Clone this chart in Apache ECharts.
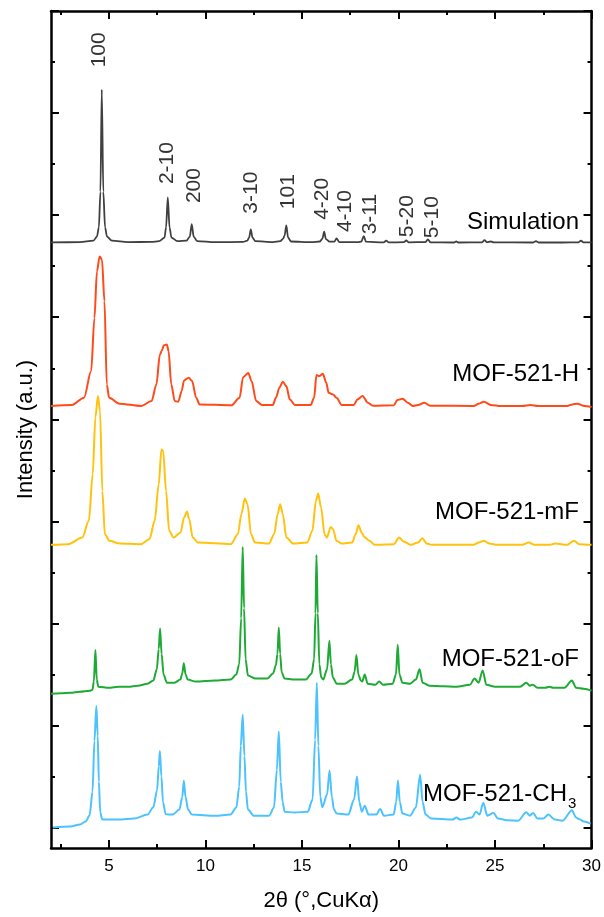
<!DOCTYPE html>
<html><head><meta charset="utf-8">
<script src="https://cdn.jsdelivr.net/npm/echarts@6/dist/echarts.min.js"></script>
<style>html,body{margin:0;padding:0;background:#fff}#c{width:604px;height:917px}</style>
</head><body><div id="c"></div>
<script>
const FONT = '"Liberation Sans", Arial, Helvetica, sans-serif';

const seriesNames = ['Simulation', 'MOF-521-H', 'MOF-521-mF', 'MOF-521-oF', 'MOF-521-CH3'];
const seriesColors = ['#404040', '#FF4A1A', '#FFC20E', '#1FAA35', '#4CC2FF'];
const baselineOffsets = [5.73, 4.13, 2.77, 1.35, 0];

// [2theta, relative intensity above own baseline]
const simulation = [[2.0,0.003],[3.5,0.005],[4.2,0.02],[4.38,0.06],[4.48,0.15],[4.56,0.5],[4.63,1.50],[4.71,0.5],[4.8,0.15],[4.9,0.06],[5.15,0.02],[6.0,0.006],[7.2,0.008],[7.6,0.015],[7.88,0.05],[7.96,0.15],[8.05,0.444],[8.14,0.15],[8.24,0.05],[8.55,0.015],[9.02,0.02],[9.19,0.06],[9.29,0.183],[9.39,0.06],[9.57,0.015],[10.5,0.005],[11.95,0.008],[12.17,0.02],[12.26,0.05],[12.35,0.13],[12.44,0.05],[12.58,0.015],[13.5,0.006],[13.88,0.015],[14.03,0.04],[14.1,0.07],[14.19,0.17],[14.28,0.05],[14.43,0.012],[15.5,0.005],[15.93,0.012],[16.06,0.04],[16.15,0.108],[16.24,0.035],[16.43,0.01],[16.68,0.01],[16.79,0.043],[16.93,0.006],[17.9,0.006],[18.08,0.012],[18.2,0.065],[18.32,0.01],[19.23,0.003],[19.37,0.02],[19.5,0.003],[20.28,0.005],[20.4,0.022],[20.53,0.004],[21.4,0.006],[21.52,0.033],[21.65,0.004],[22.88,0.002],[22.99,0.012],[23.1,0.002],[24.33,0.004],[24.45,0.026],[24.58,0.004],[24.78,0.012],[24.93,0.003],[26.98,0.002],[27.12,0.015],[27.26,0.002],[28.5,0.002],[29.33,0.004],[29.45,0.02],[29.58,0.004],[30.0,0.003]];

const mof521H = [[2.0,0],[3.08,0.01],[3.71,0.082],[4.08,0.342],[4.25,0.863],[4.38,1.32],[4.52,1.466],[4.64,1.434],[4.77,1.026],[4.89,0.212],[5.01,0.081],[5.55,0.023],[6.67,0],[7.21,0.049],[7.46,0.212],[7.64,0.505],[7.73,0.538],[7.85,0.596],[8.0,0.603],[8.09,0.538],[8.23,0.212],[8.41,0.049],[8.59,0.042],[8.77,0.147],[8.89,0.251],[9.13,0.277],[9.31,0.244],[9.52,0.081],[9.7,0.016],[11.34,0.007],[11.77,0.081],[11.95,0.283],[12.22,0.323],[12.39,0.244],[12.63,0.049],[12.93,0.01],[13.49,0.01],[13.65,0.081],[13.83,0.179],[14.01,0.238],[14.19,0.195],[14.37,0.065],[14.64,0.01],[15.45,0.01],[15.63,0.081],[15.75,0.303],[15.9,0.293],[16.08,0.316],[16.26,0.228],[16.38,0.13],[16.61,0.114],[16.79,0.081],[17.06,0.01],[17.69,0.01],[17.87,0.065],[18.14,0.098],[18.41,0.033],[18.68,0.003],[19.76,0.007],[19.94,0.059],[20.21,0.072],[20.48,0.033],[20.74,0],[21.01,0.01],[21.34,0.033],[21.64,0.003],[23.89,0],[24.16,0.023],[24.43,0.042],[24.78,0.01],[25.32,0],[26.4,0],[26.85,0.01],[27.21,0],[28.74,0],[29.0,0.016],[29.27,0.023],[29.63,0],[30.0,-0.01]];

const mof521mF = [[2.0,0],[2.9,0.007],[3.62,0.072],[3.96,0.235],[4.16,0.691],[4.3,1.248],[4.43,1.457],[4.54,1.31],[4.66,0.528],[4.79,0.104],[5.03,0.039],[5.57,0.013],[6.65,0.007],[7.1,0.055],[7.37,0.235],[7.58,0.593],[7.72,0.935],[7.81,0.919],[7.96,0.528],[8.12,0.137],[8.35,0.072],[8.71,0.121],[8.89,0.267],[9.04,0.326],[9.16,0.251],[9.34,0.072],[9.61,0.023],[11.32,0.007],[11.68,0.104],[11.86,0.3],[12.04,0.453],[12.18,0.398],[12.36,0.104],[12.57,0.023],[13.29,0.013],[13.56,0.104],[13.74,0.3],[13.87,0.398],[14.01,0.3],[14.19,0.072],[14.55,0.013],[15.27,0.023],[15.54,0.137],[15.72,0.43],[15.84,0.502],[15.99,0.365],[16.17,0.104],[16.29,0.072],[16.49,0.176],[16.61,0.153],[16.79,0.039],[17.06,0.013],[17.6,0.023],[17.78,0.104],[17.93,0.192],[18.09,0.121],[18.23,0.078],[18.5,0.039],[18.77,0],[19.76,0.007],[20.03,0.072],[20.26,0.033],[20.65,0],[21.01,0.023],[21.23,0.065],[21.46,0.013],[21.73,0],[23.89,0],[24.16,0.023],[24.43,0.039],[24.7,0.013],[25.14,0],[26.4,0],[26.76,0.023],[27.03,0],[27.84,0],[28.11,0.013],[28.74,0],[29.09,0.039],[29.36,0.007],[30.0,0]];

const mof521oF = [[2.0,-0.04],[2.5,-0.035],[3.0,-0.03],[3.5,-0.02],[4.0,-0.01],[4.15,0.0],[4.22,0.08],[4.3,0.39],[4.37,0.1],[4.45,0.03],[5.0,0.02],[5.5,0.03],[6.0,0.03],[6.5,0.04],[7.0,0.06],[7.3,0.09],[7.48,0.2],[7.58,0.4],[7.65,0.6],[7.73,0.35],[7.83,0.15],[8.0,0.07],[8.4,0.07],[8.7,0.1],[8.8,0.16],[8.88,0.26],[8.97,0.15],[9.08,0.1],[9.5,0.08],[10.5,0.09],[11.3,0.1],[11.6,0.15],[11.75,0.25],[11.85,0.7],[11.93,1.4],[12.0,0.8],[12.08,0.3],[12.2,0.14],[12.6,0.11],[13.2,0.11],[13.5,0.16],[13.65,0.24],[13.73,0.35],[13.8,0.61],[13.87,0.35],[13.95,0.17],[14.1,0.11],[14.6,0.1],[15.2,0.1],[15.5,0.16],[15.63,0.3],[15.7,0.75],[15.75,1.32],[15.82,0.75],[15.9,0.25],[16.0,0.12],[16.1,0.1],[16.3,0.2],[16.42,0.48],[16.5,0.25],[16.6,0.12],[16.8,0.06],[17.2,0.06],[17.6,0.1],[17.73,0.18],[17.82,0.34],[17.92,0.15],[18.05,0.09],[18.12,0.08],[18.25,0.15],[18.4,0.06],[18.8,0.05],[19.0,0.08],[19.2,0.05],[19.7,0.06],[19.87,0.15],[19.96,0.44],[20.05,0.15],[20.2,0.07],[20.6,0.06],[20.9,0.1],[21.09,0.2],[21.25,0.07],[21.6,0.04],[22.3,0.035],[23.0,0.03],[23.7,0.05],[23.94,0.11],[24.15,0.07],[24.36,0.19],[24.55,0.05],[25.0,0.03],[26.3,0.03],[26.62,0.07],[26.8,0.04],[26.95,0.05],[27.2,0.02],[27.6,0.02],[27.83,0.03],[28.0,0.02],[28.6,0.02],[28.98,0.09],[29.2,0.02],[29.6,0.01],[30.0,-0.01]];

const mof521CH3 = [[2.1,0],[3.0,0.01],[3.5,0.03],[3.8,0.06],[4.0,0.12],[4.15,0.35],[4.25,0.85],[4.35,1.19],[4.42,0.9],[4.48,0.45],[4.55,0.15],[4.65,0.08],[5.5,0.078],[6.3,0.088],[7.0,0.127],[7.3,0.2],[7.5,0.37],[7.58,0.6],[7.64,0.75],[7.72,0.5],[7.8,0.25],[7.94,0.13],[8.3,0.127],[8.65,0.176],[8.8,0.3],[8.88,0.459],[8.97,0.3],[9.1,0.176],[9.3,0.127],[10.5,0.117],[11.3,0.127],[11.6,0.196],[11.75,0.4],[11.83,0.8],[11.93,1.105],[12.02,0.7],[12.1,0.35],[12.2,0.176],[12.5,0.117],[13.3,0.117],[13.55,0.196],[13.7,0.567],[13.8,0.941],[13.9,0.45],[14.0,0.25],[14.1,0.156],[14.6,0.147],[15.3,0.156],[15.55,0.274],[15.68,0.86],[15.77,1.42],[15.85,0.8],[15.95,0.3],[16.05,0.2],[16.3,0.323],[16.43,0.56],[16.55,0.3],[16.65,0.18],[16.8,0.137],[17.4,0.127],[17.7,0.274],[17.85,0.501],[17.97,0.25],[18.1,0.156],[18.25,0.215],[18.45,0.127],[18.85,0.127],[19.05,0.183],[19.25,0.117],[19.75,0.127],[19.88,0.25],[19.97,0.462],[20.07,0.25],[20.2,0.137],[20.6,0.117],[20.9,0.196],[21.12,0.518],[21.25,0.25],[21.4,0.127],[21.7,0.088],[22.8,0.078],[23.0,0.098],[23.2,0.078],[23.8,0.098],[24.02,0.156],[24.2,0.127],[24.39,0.244],[24.6,0.117],[24.92,0.142],[25.15,0.088],[25.68,0.071],[26.2,0.068],[26.62,0.15],[26.8,0.117],[26.97,0.144],[27.2,0.088],[27.5,0.088],[27.76,0.127],[28.1,0.078],[28.5,0.068],[28.98,0.169],[29.2,0.098],[29.34,0.085],[29.6,0.059],[29.95,0.039]];

const seriesData = [simulation, mof521H, mof521mF, mof521oF, mof521CH3];

// Miller-index annotations of the simulated pattern
const hklLabels = ['100', '2-10', '200', '3-10', '101', '4-20', '4-10', '3-11', '5-20', '5-10'];
const hklTheta  = [4.5, 8.0, 9.43, 12.36, 14.27, 16.05, 17.25, 18.52, 20.44, 21.73];
const hklY      = [7.62, 6.51, 6.29, 6.22, 6.23, 6.16, 6.04, 6.01, 5.99, 5.98];

const xMajorTicks = [5, 10, 15, 20, 25, 30];
const xMinorTicks = [2.5, 7.5, 12.5, 17.5, 22.5, 27.5];
const yMajorTicks = [0, 1, 2, 3, 4, 5, 6, 7, 8];
const yMinorTicks = [0.5, 1.5, 2.5, 3.5, 4.5, 5.5, 6.5, 7.5];

const AX = '#000';
function xAx(pos, ticks, len, showLine, labels) {
  return {
    type: 'value', position: pos, min: 2, max: 30,
    axisLine: { show: showLine, onZero: false, lineStyle: { color: AX, width: 2.5 } },
    axisTick: { show: true, inside: true, length: len, customValues: ticks, lineStyle: { color: AX, width: 2 } },
    axisLabel: labels ? { show: true, customValues: ticks, color: '#000', fontSize: 17, fontFamily: FONT, margin: 10 } : { show: false },
    splitLine: { show: false }
  };
}
function yAx(pos, ticks, len, showLine) {
  return {
    type: 'value', position: pos, min: -0.2, max: 8,
    axisLine: { show: showLine, onZero: false, lineStyle: { color: AX, width: 2.5 } },
    axisTick: { show: true, inside: true, length: len, customValues: ticks, lineStyle: { color: AX, width: 2 } },
    axisLabel: { show: false },
    splitLine: { show: false }
  };
}

const xAxes = [
  Object.assign(xAx('bottom', xMajorTicks, 8, true, true), {
    name: '2θ (°,CuKα)', nameLocation: 'middle', nameGap: 42,
    nameTextStyle: { fontSize: 22, color: '#000', fontFamily: FONT }
  }),
  xAx('bottom', xMinorTicks, 4, false, false),
  xAx('top', xMajorTicks, 8, true, false),
  xAx('top', xMinorTicks, 4, false, false)
];
const yAxes = [
  Object.assign(yAx('left', yMajorTicks, 8, true), {
    name: 'Intensity (a.u.)', nameLocation: 'middle', nameGap: 14,
    nameTextStyle: { fontSize: 22, color: '#000', fontFamily: FONT }
  }),
  yAx('left', yMinorTicks, 4, false),
  yAx('right', yMajorTicks, 8, true),
  yAx('right', yMinorTicks, 4, false)
];

const lineSeries = seriesData.map((d, i) => ({
  type: 'line', name: seriesNames[i], xAxisIndex: 0, yAxisIndex: 0,
  data: d.map(p => [p[0], p[1] + baselineOffsets[i]]),
  showSymbol: false, symbol: 'none', smooth: 0.3, smoothMonotone: 'x',
  lineStyle: { color: seriesColors[i], width: i === 0 ? 1.8 : 2 },
  z: 2 + i
}));

const hklSeries = {
  type: 'scatter', xAxisIndex: 0, yAxisIndex: 0,
  symbolSize: 1, itemStyle: { color: 'rgba(0,0,0,0)' },
  data: hklLabels.map((t, i) => [hklTheta[i], hklY[i], t]),
  label: {
    show: true, position: 'inside', rotate: 90, formatter: p => p.value[2],
    color: '#000', fontSize: 21, fontFamily: FONT
  },
  silent: true, z: 10
};

const chart = echarts.init(document.getElementById('c'), null, { renderer: 'canvas' });
chart.setOption({
  animation: false,
  backgroundColor: '#fff',
  grid: { left: 51, right: 12, top: 11, bottom: 69, containLabel: false },
  xAxis: xAxes,
  yAxis: yAxes,
  series: lineSeries.concat([hklSeries]),
  graphic: [
    { type: 'text', x: 579, y: 222, style: { text: seriesNames[0], align: 'right', verticalAlign: 'middle', fontSize: 24, fontFamily: FONT, fill: '#000' } },
    { type: 'text', x: 579, y: 374, style: { text: seriesNames[1], align: 'right', verticalAlign: 'middle', fontSize: 24, fontFamily: FONT, fill: '#000' } },
    { type: 'text', x: 579, y: 512, style: { text: seriesNames[2], align: 'right', verticalAlign: 'middle', fontSize: 24, fontFamily: FONT, fill: '#000' } },
    { type: 'text', x: 579, y: 659, style: { text: seriesNames[3], align: 'right', verticalAlign: 'middle', fontSize: 24, fontFamily: FONT, fill: '#000' } },
    { type: 'text', x: 567, y: 794, style: { text: 'MOF-521-CH', align: 'right', verticalAlign: 'middle', fontSize: 24, fontFamily: FONT, fill: '#000' } },
    { type: 'text', x: 568, y: 804, style: { text: '3', align: 'left', verticalAlign: 'middle', fontSize: 15, fontFamily: FONT, fill: '#000' } }
  ]
});
</script>
</body></html>
